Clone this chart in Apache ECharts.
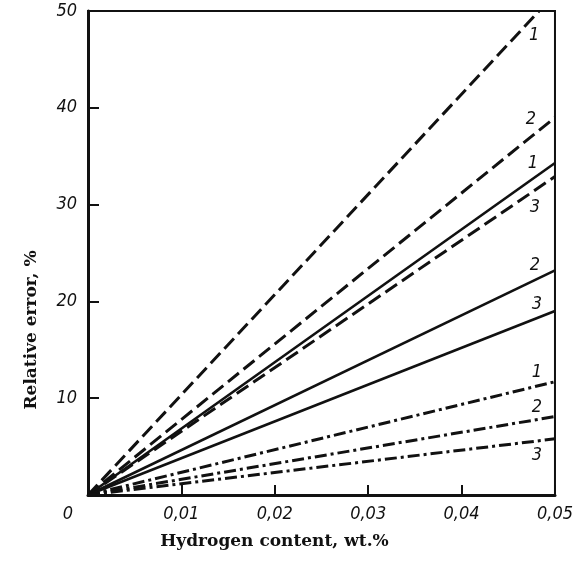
<!DOCTYPE html>
<html>
<head>
<meta charset="utf-8">
<script src="https://cdn.jsdelivr.net/npm/echarts@6/dist/echarts.min.js"></script>
<style>
html,body{margin:0;padding:0;background:#fff;}
#chart{width:576px;height:562px;}
</style>
</head>
<body>
<div id="chart"></div>
<script>
// ---- data ----
const xTickValues = [0, 0.01, 0.02, 0.03, 0.04, 0.05];
const yTickValues = [0, 10, 20, 30, 40, 50];
// each line starts at the origin and ends at (endX, endY)
const lineLabels = ['1', '2', '1', '3', '2', '3', '1', '2', '3'];
const lineStyles = ['dashed', 'dashed', 'solid', 'dashed', 'solid', 'solid', 'dashdot', 'dashdot', 'dashdot'];
const startX = [0, 0, 0, 0, 0, 0, 0, 0, 0];
const startY = [0, 0, 0, 0, 0, 0, 0, 0, 0];
const endX = [0.0483, 0.05, 0.05, 0.05, 0.05, 0.05, 0.05, 0.05, 0.05];
const endY = [50, 39.0, 34.3, 32.9, 23.2, 19.0, 11.7, 8.1, 5.8];

// ---- presentation ----
const INK = '#111';
const dashTypes = { solid: 'solid', dashed: [14, 6], dashdot: [12, 4, 3, 4] };
// label centre relative to the line end, in pixels
const labelOffsets = [[-5, 24], [-24, 2], [-22, 0], [-20, 31], [-20, -5], [-18, -7], [-18, -9], [-18, -9], [-18, 16]];
const tickFont = { fontFamily: 'DejaVu Sans Condensed, DejaVu Sans', fontStyle: 'italic', fontSize: 18, color: INK };
const nameFont = { fontFamily: 'DejaVu Serif', fontWeight: 'bold', fontSize: 17, color: INK };

const series = [];
lineLabels.forEach((lab, i) => {
  series.push({
    type: 'line',
    data: [[startX[i], startY[i]], [endX[i], endY[i]]],
    showSymbol: false,
    symbol: 'none',
    silent: true,
    clip: true,
    lineStyle: { color: INK, width: lineStyles[i] === 'solid' ? 2.6 : 3, type: dashTypes[lineStyles[i]] },
    z: 3
  });
});
const SYM = 2;
series.push({
  type: 'scatter',
  data: lineLabels.map((lab, i) => ({
    value: [endX[i], endY[i]],
    label: Object.assign({
      show: true,
      formatter: lab,
      position: [SYM / 2 + labelOffsets[i][0], SYM / 2 + labelOffsets[i][1]],
      align: 'center',
      verticalAlign: 'middle',
      textBorderWidth: 0,
      opacity: 1
    }, tickFont)
  })),
  symbolSize: SYM,
  itemStyle: { color: 'rgba(0,0,0,0)' },
  silent: true,
  clip: false,
  label: Object.assign({ show: true, textBorderWidth: 0 }, tickFont),
  z: 5
});

const chart = echarts.init(document.getElementById('chart'), null, { renderer: 'canvas' });
chart.setOption({
  backgroundColor: '#fff',
  animation: false,
  grid: { left: 88, right: 18, top: 11, bottom: 67, show: true, borderColor: INK, borderWidth: 2 },
  xAxis: {
    type: 'value',
    min: xTickValues[0],
    max: xTickValues[xTickValues.length - 1],
    interval: xTickValues[1] - xTickValues[0],
    name: 'Hydrogen content, wt.%',
    nameLocation: 'middle',
    nameGap: 38,
    nameTextStyle: Object.assign({ padding: [0, 94, 0, 0] }, nameFont),
    axisLine: { show: true, lineStyle: { color: INK, width: 3 } },
    axisTick: { show: true, inside: true, length: 10, lineStyle: { color: INK, width: 2 } },
    splitLine: { show: false },
    axisLabel: Object.assign({
      margin: 10,
      formatter: v => (v === 0 ? '{o|0}' : v.toFixed(2).replace('.', ',')),
      rich: { o: Object.assign({ padding: [0, 40, 0, 0] }, tickFont) }
    }, tickFont)
  },
  yAxis: {
    type: 'value',
    min: yTickValues[0],
    max: yTickValues[yTickValues.length - 1],
    interval: yTickValues[1] - yTickValues[0],
    name: 'Relative error, %',
    nameLocation: 'middle',
    nameGap: 48,
    nameTextStyle: Object.assign({ padding: [0, 154, 0, 0] }, nameFont),
    axisLine: { show: true, lineStyle: { color: INK, width: 3 } },
    axisTick: { show: true, inside: true, length: 11, lineStyle: { color: INK, width: 2 } },
    splitLine: { show: false },
    axisLabel: Object.assign({
      margin: 11,
      formatter: v => (v === 0 ? '' : String(v))
    }, tickFont)
  },
  series: series
});
</script>
</body>
</html>
